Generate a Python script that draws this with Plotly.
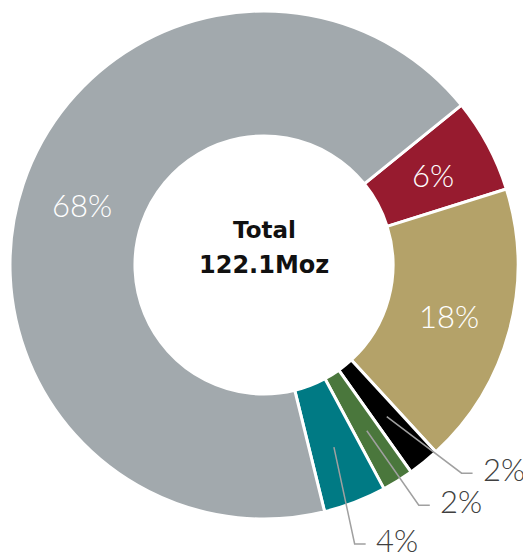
import math
import plotly.graph_objects as go

# ---- data ----
labels = ["Segment A", "Segment B", "Segment C", "Segment D", "Segment E", "Segment F"]
values = [6, 18, 2, 2, 4, 68]          # percent of total
colors = ["#971B2F", "#B4A269", "#000000", "#4A773C", "#007A84", "#A2A9AD"]
total_title = "Total"
total_label = "122.1Moz"

# ---- style / geometry ----
OFF = 8                                # page body margin compensation
W, H = 531 - OFF, 559 - OFF
CX, CY, R = 264 - OFF, 265 - OFF, 254  # pie centre & outer radius (px, in figure)
HOLE = 0.508
ROTATION = 51
INSIDE_MIN = 5                         # slices below this get leader lines
elbow_angle_adj = [0, 0, -4.5, -1, 3, 0]  # deg tweaks for leader elbows
elbow_r = [0, 0, 1.13, 1.125, 1.155, 0]
LABEL_FONT = "Lato, 'Noto Sans', sans-serif"

fig = go.Figure()
fig.add_trace(go.Pie(
    labels=labels,
    values=values,
    textinfo="none",
    hole=HOLE,
    sort=False,
    direction="clockwise",
    rotation=ROTATION,
    marker=dict(colors=colors, line=dict(color="white", width=3)),
    domain=dict(x=[(CX - R) / W, (CX + R) / W], y=[1 - (CY + R) / H, 1 - (CY - R) / H]),
    hoverinfo="label+percent",
    showlegend=False,
))


def to_paper(px, py):
    return px / W, 1 - py / H


def polar(r, ang):
    return CX + r * math.sin(math.radians(ang)), CY - r * math.cos(math.radians(ang))


shapes = []
annotations = []
tot = sum(values)
cum = 0.0
for i, v in enumerate(values):
    a0 = ROTATION + 360 * cum / tot
    cum += v
    a1 = ROTATION + 360 * cum / tot
    mid = (a0 + a1) / 2
    pct = f"{100 * v / tot:.0f}%"
    if v >= INSIDE_MIN:
        px, py = polar(R * (1 + HOLE) / 2, mid)
        x, y = to_paper(px, py + 1)
        annotations.append(dict(x=x, y=y, xref="paper", yref="paper", text=pct,
                                showarrow=False, xanchor="center", yanchor="middle",
                                font=dict(family=LABEL_FONT, size=31, color="white", weight=300)))
        continue
    sx, sy = polar(0.768 * R, mid)
    ex, ey = polar(elbow_r[i] * R, mid + elbow_angle_adj[i])
    hx = ex + 11
    pts = [to_paper(sx, sy), to_paper(ex, ey), to_paper(hx, ey)]
    path = "M {} {} L {} {} L {} {}".format(*[c for p in pts for c in p])
    shapes.append(dict(type="path", xref="paper", yref="paper", path=path,
                       line=dict(color="#A0A0A0", width=1.5)))
    tx, ty = to_paper(hx + 8, ey - 4)
    annotations.append(dict(x=tx, y=ty, xref="paper", yref="paper", text=pct,
                            showarrow=False, xanchor="left", yanchor="middle",
                            font=dict(family=LABEL_FONT, size=31, color="#404040", weight=300)))

# centre text
for txt, py, fs in [(total_title, 230, 23), (total_label, 265, 24)]:
    x, y = to_paper(CX, py - OFF)
    annotations.append(dict(x=x, y=y, xref="paper", yref="paper", text=f"<b>{txt}</b>",
                            showarrow=False, xanchor="center", yanchor="middle",
                            font=dict(family="'DejaVu Sans', sans-serif", size=fs, color="#111111")))

fig.update_layout(
    width=W, height=H,
    margin=dict(l=0, r=0, t=0, b=0),
    paper_bgcolor="white",
    plot_bgcolor="white",
    shapes=shapes,
    annotations=annotations,
)

fig.write_html("out.html")
